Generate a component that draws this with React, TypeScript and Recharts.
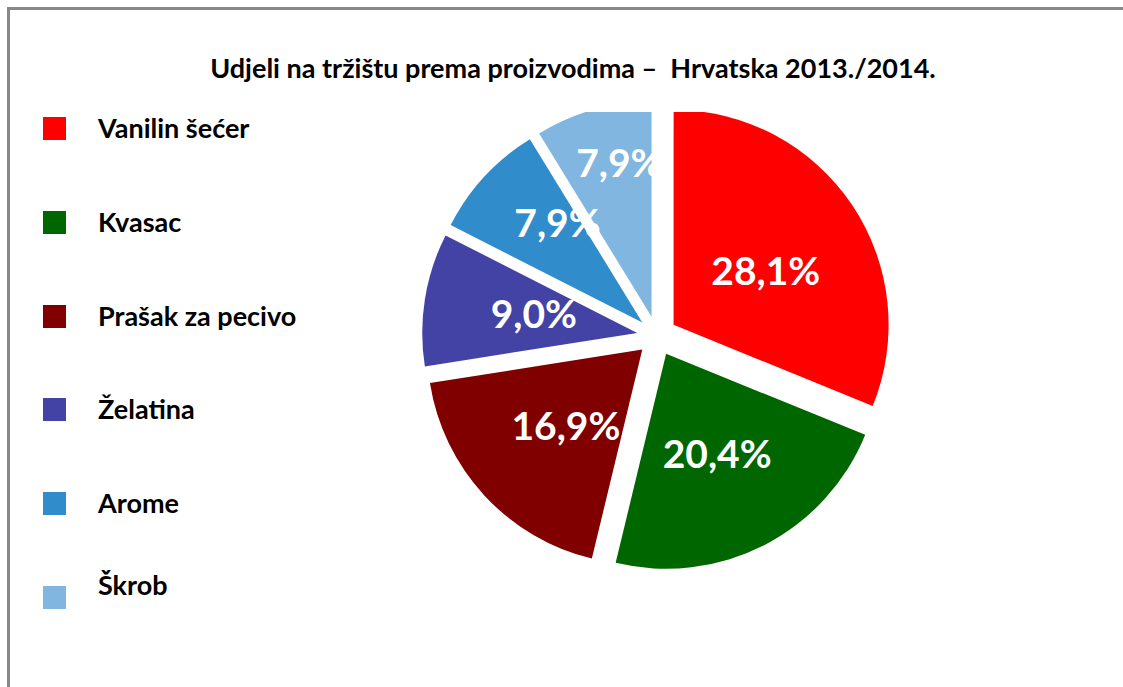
import React from "react";
import { PieChart, Pie, Cell, Legend, Sector } from "recharts";

const products = [
  "Vanilin šećer",
  "Kvasac",
  "Prašak za pecivo",
  "Želatina",
  "Arome",
  "Škrob",
];
const shares = [28.1, 20.4, 16.9, 9.0, 7.9, 7.9];
const colors = ["#ff0000", "#006600", "#800000", "#4343a5", "#318ccb", "#80b6df"];

// label placement inside each slice: share of the radius, and turn (degrees) from the slice's mid angle
const labelRadius = [0.5, 0.52, 0.5, 0.49, 0.61, 0.735];
const labelTurn = [-3, 0, 2, -2, -7, -4];

const data = products.map((name, i) => ({ name, value: shares[i] }));

const RADIUS = 215;
const EXPLODE = 20;
const LEGEND_W = 330;
const FONT = "Lato, 'Open Sans', sans-serif";

const offsetCenter = (cx: number, cy: number, midAngle: number) => {
  const rad = (-midAngle * Math.PI) / 180;
  return { x: cx + EXPLODE * Math.cos(rad), y: cy + EXPLODE * Math.sin(rad) };
};

const ExplodedSector = (props: any) => {
  const { cx, cy, midAngle, innerRadius, outerRadius, startAngle, endAngle, fill } = props;
  const c = offsetCenter(cx, cy, midAngle);
  return (
    <Sector
      cx={c.x}
      cy={c.y}
      innerRadius={innerRadius}
      outerRadius={outerRadius}
      startAngle={startAngle}
      endAngle={endAngle}
      fill={fill}
      stroke="none"
    />
  );
};

const renderLabel = (props: any) => {
  const { cx, cy, midAngle, outerRadius, index, value } = props;
  const c = offsetCenter(cx, cy, midAngle);
  const r = outerRadius * labelRadius[index];
  const rad = (-(midAngle + labelTurn[index]) * Math.PI) / 180;
  return (
    <text
      x={c.x + r * Math.cos(rad)}
      y={c.y + r * Math.sin(rad)}
      fill="#ffffff"
      textAnchor="middle"
      dominantBaseline="central"
      fontFamily={FONT}
      fontWeight={700}
      fontSize={39}
    >
      {`${value.toFixed(1).replace(".", ",")}%`}
    </text>
  );
};

const renderLegend = (props: any) => {
  const { payload } = props;
  return (
    <div style={{ position: "relative", width: LEGEND_W, height: 575 }}>
      {payload.map((entry: any) => {
        const i = products.indexOf(entry.value);
        return (
          <div key={entry.value}>
            <div
              style={{
                position: "absolute",
                left: 43,
                top: 5 + i * 93.8,
                width: 23,
                height: 23,
                background: colors[i],
              }}
            />
            <div
              style={{
                position: "absolute",
                left: 98,
                top: 15 + i * 93.8 - (i === 5 ? 12 : 0),
                transform: "translateY(-50%)",
                fontFamily: FONT,
                fontWeight: 700,
                fontSize: 27,
                color: "#000",
                whiteSpace: "nowrap",
              }}
            >
              {entry.value}
            </div>
          </div>
        );
      })}
    </div>
  );
};

const App: React.FC = () => {
  return (
    <div
      style={{
        position: "absolute",
        left: 0,
        top: 0,
        width: 1123,
        height: 687,
        background: "#fff",
        overflow: "hidden",
      }}
    >
      {/* frame */}
      <div
        style={{
          position: "absolute",
          left: 7,
          top: 7,
          width: 1130,
          height: 700,
          borderTop: "3px solid #888888",
          borderLeft: "3px solid #888888",
        }}
      />
      <div
        style={{
          position: "absolute",
          left: 0,
          top: 67,
          width: 1146,
          textAlign: "center",
          transform: "translateY(-50%)",
          fontFamily: FONT,
          fontWeight: 700,
          fontSize: 27,
          color: "#000",
          whiteSpace: "pre",
        }}
      >
        {"Udjeli na tržištu prema proizvodima –  Hrvatska 2013./2014."}
      </div>
      <div
        style={{
          position: "absolute",
          left: 0,
          top: 112,
          width: 1123,
          height: 575,
          overflow: "hidden",
        }}
      >
        <PieChart width={1123} height={575} margin={{ top: 0, right: 0, bottom: 0, left: 0 }}>
          <Pie
            data={data}
            dataKey="value"
            nameKey="name"
            cx={657 - LEGEND_W}
            cy={224}
            outerRadius={RADIUS}
            startAngle={90}
            endAngle={-270}
            stroke="none"
            shape={ExplodedSector}
            label={renderLabel}
            labelLine={false}
            isAnimationActive={false}
          >
            {data.map((d, i) => (
              <Cell key={d.name} fill={colors[i]} />
            ))}
          </Pie>
          <Legend
            layout="vertical"
            align="left"
            verticalAlign="top"
            content={renderLegend}
            wrapperStyle={{ left: 0, top: 0 }}
          />
        </PieChart>
      </div>
    </div>
  );
};

export default App;
